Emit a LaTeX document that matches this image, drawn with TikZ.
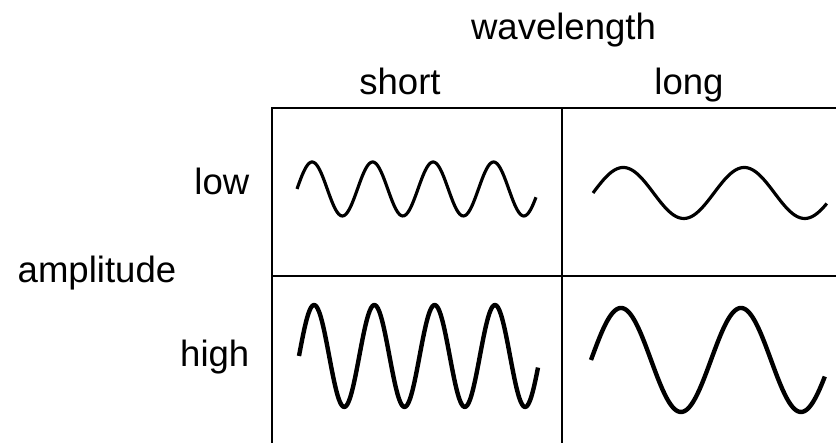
\documentclass[tikz,border=0pt]{standalone}
\usepackage{fontspec}
\setmainfont{Liberation Sans}
\usepackage{tikz}
\usetikzlibrary{positioning}

\begin{document}
\begin{tikzpicture}[
  heading/.style={inner sep=0pt, anchor=base, font=\fontsize{10.4}{12}\selectfont},
  cell/.style={line width=0.6pt},
  wave/.style={line width=0.9pt, smooth, samples=180, line join=round},
  bigwave/.style={wave, line width=1.25pt}
]
  \useasboundingbox (0,0) rectangle (8.36,4.43);

  % table lines
  \draw[cell] (8.40,3.35) -| (2.72,-0.05);
  \draw[cell] (2.72,1.67) -- (8.40,1.67);
  \draw[cell] (5.62,3.35) -- (5.62,-0.05);

  % headings
  \node[heading] (wavelength) at (5.635,4.03) {wavelength};
  \node[heading] (short) at (4.00,3.48) {short};
  \node[heading] (long) at (6.89,3.48) {long};
  \node[heading, anchor=base east] (low) at (2.50,2.48) {low};
  \node[heading, anchor=base east] (high) at (2.50,0.76) {high};
  \node[heading, anchor=base west] (amplitude) at (0.17,1.60) {amplitude};

  % waves
  \draw[wave, domain=2.97:5.36] plot (\x, {2.54+0.27*sin(360*(\x-2.97)/0.605)});
  \draw[wave, domain=5.93:8.27] plot (\x, {2.50+0.255*sin(360*(\x-5.93)/1.21)});
  \draw[bigwave, domain=2.99:5.38] plot (\x, {0.87+0.51*sin(360*(\x-2.99)/0.603)});
  \draw[bigwave, domain=5.91:8.25] plot (\x, {0.83+0.52*sin(360*(\x-5.91)/1.20)});
\end{tikzpicture}
\end{document}
